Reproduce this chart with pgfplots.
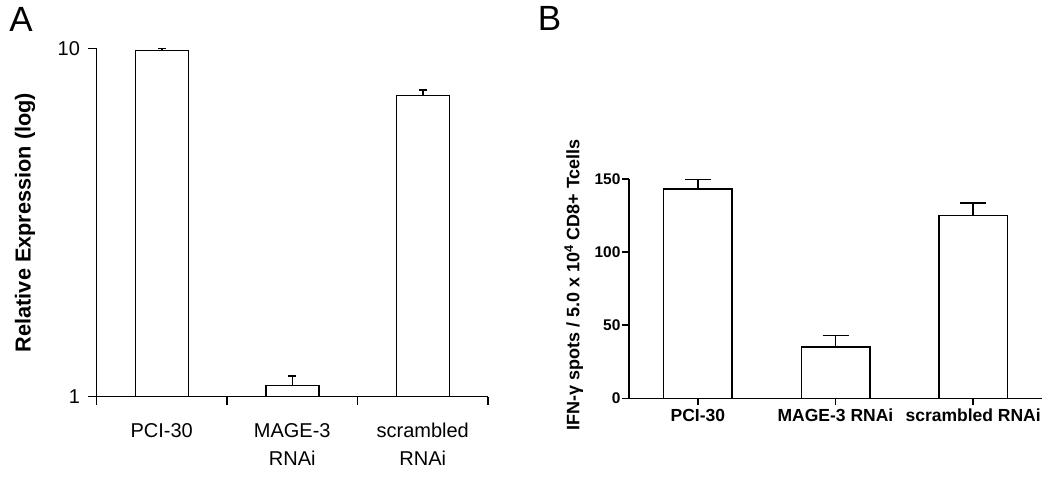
\documentclass[border=0pt]{standalone}
\usepackage{fontspec}
\setmainfont{Liberation Sans}
\usepackage{pgfplots}
\pgfplotsset{compat=1.18}
\begin{document}
\begin{tikzpicture}[x=1pt,y=1pt]
\useasboundingbox (0,0) rectangle (1050,-477);
\node[font=\fontsize{35}{35}\selectfont, anchor=center, inner sep=0pt] at (21,-19.5) {A};
\node[font=\fontsize{35}{35}\selectfont, anchor=center, inner sep=0pt] at (549.5,-18.5) {B};

\begin{axis}[
  at={(96.5pt,-396.7pt)}, anchor=south west,
  scale only axis, width=391.5pt, height=348.4pt,
  ymode=log, ymin=1, ymax=10, xmin=-0.5, xmax=2.5,
  axis x line=bottom, axis y line=left,
  axis line style={-, line width=1.5pt},
  ybar, bar width=53pt,
  ytick={1,10}, yticklabels={1,10},
  minor y tick style={draw=none},
  xtick={-0.5,0.5,1.5,2.5}, xticklabels={},
  extra x ticks={0,1,2},
  extra x tick labels={\rule{0pt}{15pt}PCI-30,\rule{0pt}{15pt}MAGE-3\\RNAi,\rule{0pt}{15pt}scrambled\\RNAi},
  extra x tick style={major tick length=0pt,
     xticklabel style={align=center, anchor=north, inner sep=0pt, font=\fontsize{20}{28.3}\selectfont, yshift=-25.6pt}},
  tick align=outside, major tick length=8pt,
  tick style={line width=1.5pt, black},
  yticklabel style={font=\fontsize{20}{20}\selectfont, xshift=-5pt},
  ylabel={\bfseries Relative Expression (log)},
  ylabel style={font=\fontsize{21.7}{21.7}\selectfont, at={(axis description cs:-0.1826,0.5)}, anchor=center},
]
\addplot[draw=black, fill=white, line width=1.5pt,
  error bars/.cd, y dir=plus, y explicit,
  error bar style={line width=1.5pt, black},
  error mark options={rotate=90, mark size=4pt, line width=1.5pt, black}]
  coordinates {(0,9.85) +- (0,0.15) (1,1.077) +- (0,0.071) (2,7.31) +- (0,0.29)};
\end{axis}

\begin{axis}[
  at={(629pt,-398.3pt)}, anchor=south west,
  scale only axis, width=413pt, height=219.3pt,
  ymin=0, ymax=150, xmin=-0.5, xmax=2.5,
  axis x line=bottom, axis y line=left,
  axis line style={-, line width=1.5pt},
  ybar, bar width=68.5pt,
  ytick={0,50,100,150},
  xtick={0,1,2}, xticklabels={PCI-30,MAGE-3 RNAi,scrambled RNAi},
  tick align=outside, major tick length=7pt,
  tick style={line width=1.5pt, black},
  /pgf/number format/assume math mode=true,
  tick label style={font=\fontsize{17.5}{17.5}\selectfont\bfseries},
  yticklabel style={font=\fontsize{15.5}{15.5}\selectfont\bfseries, xshift=2pt},
  ylabel={\bfseries IFN-γ spots / 5.0 x 10\textsuperscript{4} CD8+ Tcells},
  ylabel style={font=\fontsize{18}{18}\selectfont, at={(axis description cs:-0.1335,0.517)}, anchor=center},
]
\addplot[draw=black, fill=white, line width=1.5pt,
  error bars/.cd, y dir=plus, y explicit,
  error bar style={line width=1.5pt, black},
  error mark options={rotate=90, mark size=13pt, line width=1.5pt, black}]
  coordinates {(0,143.2) +- (0,6.3) (1,35.1) +- (0,7.7) (2,124.9) +- (0,8.7)};
\end{axis}
\end{tikzpicture}
\end{document}
